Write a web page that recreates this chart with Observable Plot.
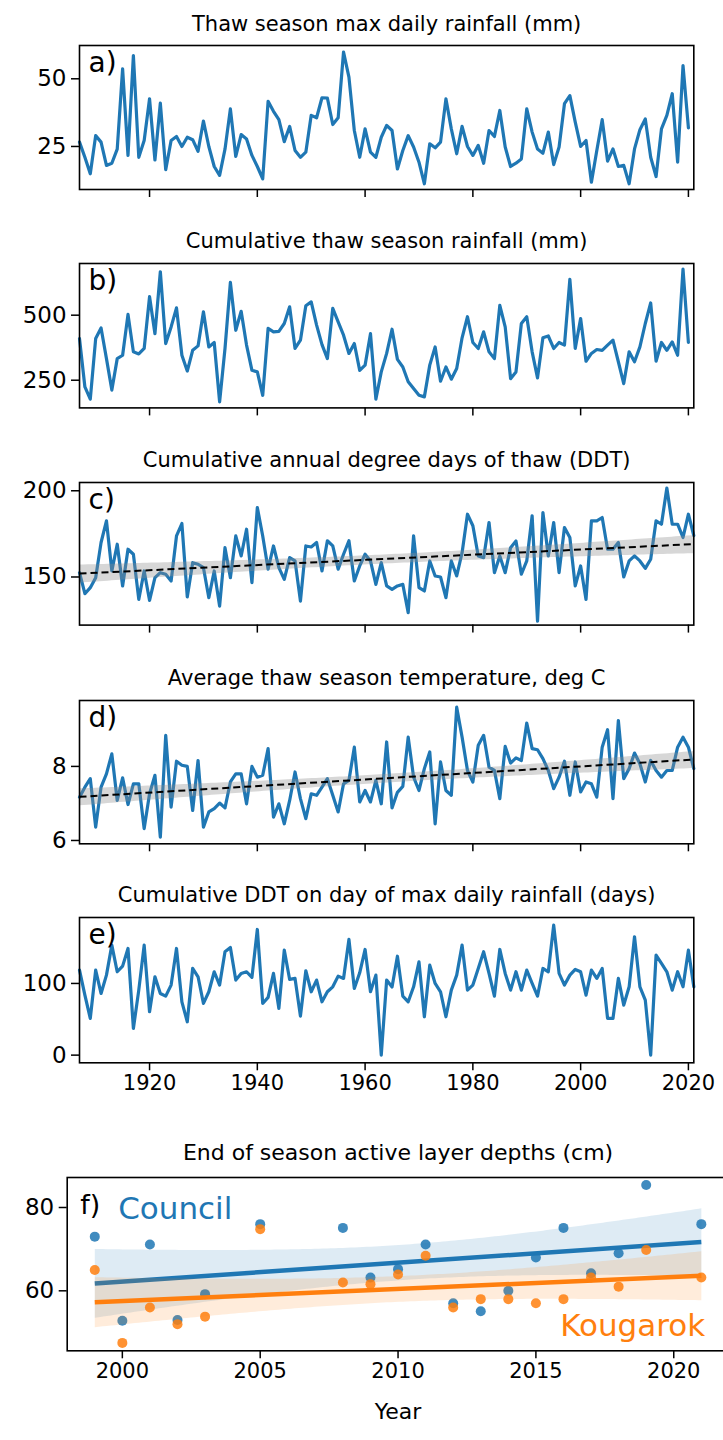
<!DOCTYPE html>
<html>
<head>
<meta charset="utf-8">
<script src="https://cdn.jsdelivr.net/npm/d3@7"></script>
<script src="https://cdn.jsdelivr.net/npm/@observablehq/plot@0.6"></script>
<style>
html, body { margin: 0; padding: 0; background: #fff; }
#chart { position: relative; width: 723px; height: 1440px; overflow: hidden; background: #fff; }
#chart svg { position: absolute; left: 0; }
</style>
</head>
<body>
<div id="chart"></div>
<script>
// ---------- data ----------
const years = d3.range(1907, 2022); // 1907 ... 2021
const decadeTicks = [1920, 1940, 1960, 1980, 2000, 2020];

// a) Thaw season max daily rainfall (mm), 1907-2020
const maxRain = [26.6, 21, 14.9, 29, 26.6, 18, 18.8, 24, 53.7, 21.7, 58.6, 21, 27.2, 42.6, 20, 41, 16.4, 27.2, 28.7, 25,
  28.4, 27.5, 23.2, 34.4, 25, 17.6, 14.3, 24, 38.9, 21.3, 29.4, 27.8, 21.7, 17.6, 13, 41.7, 38, 34.9, 26.8, 32.4,
  23.5, 21, 22.9, 36.5, 35.6, 43, 42.9, 33.1, 35.6, 59.9, 50.6, 30.9, 21, 31.5, 22.9, 21, 28.4, 32.8, 30.9, 16.7,
  23.5, 29, 24.8, 19.2, 11.2, 26, 24.5, 26.6, 42.6, 31.5, 22.3, 32.4, 25, 21.7, 25.4, 18.8, 30.9, 28.7, 38.3, 24.8,
  17.6, 18.8, 20.4, 38.9, 30.3, 24.1, 22.5, 30.3, 18.3, 24.8, 40.8, 43.8, 34, 25, 27.2, 11.8, 23.5, 34.9, 19.6, 24.1,
  17.6, 18, 11.2, 24.1, 31.2, 35.2, 21, 13.9, 31.5, 36.5, 44.5, 19.2, 54.9, 31.9];

// b) Cumulative thaw season rainfall (mm), 1907-2020
const cumRain = [410, 224, 177, 410, 451, 333, 212, 333, 346, 503, 359, 351, 372, 571, 429, 667, 391, 455, 528, 346,
  285, 365, 382, 513, 378, 395, 167, 372, 626, 442, 515, 385, 288, 282, 192, 449, 436, 438, 468, 532,
  372, 404, 536, 551, 462, 387, 333, 526, 474, 423, 353, 391, 288, 308, 429, 177, 282, 353, 446, 330,
  301, 244, 218, 192, 186, 308, 378, 246, 301, 254, 295, 413, 494, 395, 372, 436, 359, 333, 538, 455,
  256, 282, 468, 494, 359, 259, 413, 420, 372, 395, 385, 638, 372, 487, 323, 353, 368, 365, 385, 404,
  321, 237, 359, 321, 378, 468, 547, 323, 395, 365, 397, 346, 677, 395];

// c) Cumulative annual degree days of thaw (DDT), 1907-2021
const ddt = [152.5, 140.3, 143.8, 149.6, 170, 182.6, 153.5, 169, 144.8, 166.1, 163.2, 137, 153.5, 136.4, 149.6, 152.5, 151.6, 147.7, 173.8, 181,
  138.4, 158.3, 157.4, 155.4, 138, 153.5, 133.1, 167, 149.6, 173.8, 162.2, 177.7, 146.7, 190.3, 173.8, 154.5, 168, 155.4, 148.6, 161.2,
  159.3, 136, 168, 167.4, 170, 153.5, 171, 168, 154.5, 163.2, 171, 147.7, 156.4, 163.2, 159.3, 145.7, 158.3, 144.8, 142.8, 144.8,
  145.7, 129.3, 173.8, 143.8, 141.9, 159.3, 150.6, 150, 138, 159.3, 150.6, 164.1, 186.4, 179.7, 162.2, 161.2, 181.6, 152.5, 162.2, 152.5,
  167, 170.9, 151.6, 159.3, 185.5, 124.4, 187.4, 162.2, 181.6, 152.5, 178.7, 172.9, 144.8, 156.4, 137, 182.6, 182.6, 184.5, 166.1, 166.1,
  170, 150, 159.3, 162.2, 159.3, 155, 160.3, 182.6, 180.6, 201.6, 180.6, 180.6, 172.9, 186.4, 174];

// d) Average thaw season temperature (deg C), 1907-2021
const temp = [7.17, 7.44, 7.67, 6.36, 7.44, 7.80, 8.34, 7.08, 7.69, 6.97, 7.53, 7.53, 6.32, 7.26, 7.76, 6.09, 8.84, 6.90, 8.14, 8.03,
  8.0, 6.81, 8.16, 6.36, 6.77, 6.86, 7.01, 6.88, 7.58, 7.80, 7.80, 6.99, 8.0, 7.71, 7.76, 8.48, 6.63, 6.99, 6.45, 7.08,
  7.85, 7.13, 6.59, 7.26, 7.22, 7.44, 7.67, 7.22, 6.77, 7.53, 7.62, 8.52, 7.04, 7.35, 7.04, 7.62, 6.99, 8.66, 6.88, 7.30,
  7.46, 8.79, 7.71, 7.35, 7.94, 8.39, 6.45, 8.12, 7.35, 7.22, 9.60, 8.79, 7.89, 7.58, 8.57, 8.84, 7.98, 7.89, 7.13, 8.54,
  8.09, 8.23, 8.16, 9.17, 8.48, 8.45, 8.21, 7.89, 7.40, 7.71, 8.14, 7.22, 8.12, 7.31, 7.58, 7.53, 7.17, 8.52, 8.99, 7.13,
  9.24, 7.67, 7.94, 8.36, 8.07, 7.58, 8.16, 7.89, 7.71, 7.89, 7.89, 8.52, 8.79, 8.52, 7.94];

// e) Cumulative DDT on day of max daily rainfall (days), 1907-2021
const ddtMaxRain = [118.6, 83.7, 51.2, 118.6, 86, 111.6, 153.5, 116.3, 124.2, 148.8, 37.2, 90.7, 153.5, 60.5, 109.3, 86, 82.3, 97.7, 148.8, 74.4,
  46.5, 120.9, 109.3, 72.1, 88.4, 116.3, 97.7, 144.2, 150.2, 104.7, 114, 116.3, 108.4, 175.3, 72.1, 80.5, 114, 65.1, 146.5, 105.6,
  107, 54.4, 117.7, 88.4, 104.7, 74.4, 88.4, 95.3, 110.2, 107, 161.4, 93, 114.9, 147.4, 88.4, 111.6, 0, 104.7, 95, 138,
  82.3, 74.4, 95.3, 130.2, 53.5, 125.6, 100, 88.4, 53.5, 90.7, 111.6, 153.5, 90.7, 97.7, 120.9, 144.2, 114, 82.3, 147.4, 114,
  90.7, 116.3, 90.7, 118.6, 100, 82.3, 120.9, 116.3, 181.4, 114, 97.7, 111.6, 119.5, 116.3, 83.7, 118.6, 107, 120.9, 51.2, 51.2,
  107, 69.8, 95.3, 165.1, 95.3, 76.7, 0, 139.5, 127.9, 116.3, 90.7, 116.3, 95.3, 146.5, 95.3];

// f) End of season active layer depths (cm)
const alYears = [1999, 2000, 2001, 2002, 2003, 2005, 2008, 2009, 2010, 2011, 2012, 2013, 2014, 2015, 2016, 2017, 2018, 2019, 2021];
const council = [73, 52.8, 71.1, 53, 59.2, 76, 75.1, 63.2, 65.2, 71.1, 57, 55.1, 60, 68, 75.1, 64.2, 69, 85.4, 76];
const kougarok = [65, 47.5, 56, 52, 53.8, 74.8, 62, 61.6, 63.9, 68.4, 56, 58, 58, 57, 58, 63.2, 61, 69.8, 63.2];
const alTicks = [2000, 2005, 2010, 2015, 2020];

// ---------- drawing ----------
const FONT = "'DejaVu Sans', sans-serif";
const BLUE = "#1f77b4", ORANGE = "#ff7f0e";
const chart = document.getElementById("chart");
const MT = 40;
const YFS = 23, XFS = 21;

function place(svg, top) {
  svg.style.top = top + "px";
  chart.appendChild(svg);
}

function tsPanel({values, title, letter, yDomain, yTicks, frameTop, frameBottom, xLabels, trend}) {
  const rows = values.map((v, i) => ({year: years[i], v}));
  const mb = xLabels ? 45 : 14;
  const marks = [
    Plot.lineY(rows, {x: "year", y: "v", stroke: BLUE, strokeWidth: 3.2, strokeLinejoin: "round"})
  ];
  if (trend) {
    marks.push(Plot.linearRegressionY(rows, {x: "year", y: "v", stroke: "black", strokeWidth: 2,
      strokeDasharray: "7,4", strokeLinecap: "butt", fill: "#8c8c8c", fillOpacity: 0.35}));
  }
  marks.push(
    Plot.frame({stroke: "black", strokeWidth: 1.6}),
    Plot.axisY({ticks: yTicks, tickSize: 8, tickPadding: 5, fontSize: YFS, strokeWidth: 1.5, label: null, tickFormat: d => String(d)}),
    Plot.axisX({ticks: decadeTicks, tickSize: 8, tickPadding: 4, fontSize: XFS, strokeWidth: 1.5, label: null,
      tickFormat: xLabels ? (d => String(d)) : (() => "")}),
    Plot.text([letter], {frameAnchor: "top-left", dx: 9, dy: 7, lineAnchor: "top", textAnchor: "start", fontSize: 28, fill: "black"}),
    Plot.text([title], {frameAnchor: "top", dy: -15, lineAnchor: "bottom", fontSize: 21, fill: "black"})
  );
  const svg = Plot.plot({
    width: 723,
    height: MT + (frameBottom - frameTop) + mb,
    marginLeft: 79, marginRight: 723 - 693.3, marginTop: MT, marginBottom: mb,
    x: {domain: [1907, 2021]},
    y: {domain: yDomain},
    style: {fontFamily: FONT, fontSize: "20px", background: "transparent", color: "black", overflow: "visible"},
    marks
  });
  place(svg, frameTop - MT);
}

tsPanel({values: maxRain, title: "Thaw season max daily rainfall (mm)", letter: "a)",
  yDomain: [9.1, 62.3], yTicks: [25, 50], frameTop: 45, frameBottom: 189});
tsPanel({values: cumRain, title: "Cumulative thaw season rainfall (mm)", letter: "b)",
  yDomain: [143.6, 698.7], yTicks: [250, 500], frameTop: 263.3, frameBottom: 407.7});
tsPanel({values: ddt, title: "Cumulative annual degree days of thaw (DDT)", letter: "c)",
  yDomain: [122.1, 204.8], yTicks: [150, 200], frameTop: 481.7, frameBottom: 624.3, trend: true});
tsPanel({values: temp, title: "Average thaw season temperature, deg C", letter: "d)",
  yDomain: [5.91, 9.78], yTicks: [6, 8], frameTop: 700, frameBottom: 843.3, trend: true});
tsPanel({values: ddtMaxRain, title: "Cumulative DDT on day of max daily rainfall (days)", letter: "e)",
  yDomain: [-10.7, 192], yTicks: [0, 100], frameTop: 917.3, frameBottom: 1062.6, xLabels: true});

// panel f
{
  const frameTop = 1176.7, frameBottom = 1350;
  const mb = 80;
  const cRows = alYears.map((yr, i) => ({year: yr, v: council[i]}));
  const kRows = alYears.map((yr, i) => ({year: yr, v: kougarok[i]}));
  const svg = Plot.plot({
    width: 723,
    height: MT + (frameBottom - frameTop) + mb,
    marginLeft: 66.7, marginRight: 723 - 728.4, marginTop: MT, marginBottom: mb,
    x: {domain: [1998, 2022]},
    y: {domain: [45.6, 87.2]},
    style: {fontFamily: FONT, fontSize: "20px", background: "transparent", color: "black", overflow: "visible"},
    marks: [
      Plot.dot(cRows, {x: "year", y: "v", r: 5, fill: BLUE, fillOpacity: 0.85, stroke: "none"}),
      Plot.linearRegressionY(cRows, {x: "year", y: "v", stroke: BLUE, strokeWidth: 4.5, fill: BLUE, fillOpacity: 0.15, strokeLinecap: "butt"}),
      Plot.dot(kRows, {x: "year", y: "v", r: 5, fill: ORANGE, fillOpacity: 0.85, stroke: "none"}),
      Plot.linearRegressionY(kRows, {x: "year", y: "v", stroke: ORANGE, strokeWidth: 4.5, fill: ORANGE, fillOpacity: 0.15, strokeLinecap: "butt"}),
      Plot.frame({stroke: "black", strokeWidth: 1.6}),
      Plot.axisY({ticks: [60, 80], tickSize: 8, tickPadding: 5, fontSize: YFS, strokeWidth: 1.5, label: null, tickFormat: d => String(d)}),
      Plot.axisX({ticks: alTicks, tickSize: 8, tickPadding: 4, fontSize: XFS, strokeWidth: 1.5, label: null, tickFormat: d => String(d)}),
      Plot.text(["f)"], {frameAnchor: "top-left", dx: 13, dy: 37, lineAnchor: "bottom", textAnchor: "start", fontSize: 27, fill: "black"}),
      Plot.text(["Council"], {frameAnchor: "top-left", dx: 51, dy: 41.5, lineAnchor: "bottom", textAnchor: "start", fontSize: 31, fill: BLUE}),
      Plot.text(["Kougarok"], {frameAnchor: "bottom-left", dx: 493, dy: -15, lineAnchor: "bottom", textAnchor: "start", fontSize: 31, fill: ORANGE}),
      Plot.text(["End of season active layer depths (cm)"], {frameAnchor: "top", dy: -17, lineAnchor: "bottom", fontSize: 22, fill: "black"}),
      Plot.text(["Year"], {frameAnchor: "bottom", dy: 68, lineAnchor: "bottom", fontSize: 22, fill: "black"})
    ]
  });
  place(svg, frameTop - MT);
}
</script>
</body>
</html>
